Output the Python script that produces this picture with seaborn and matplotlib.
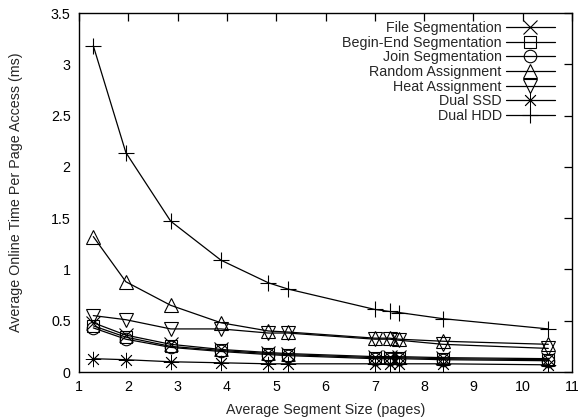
import matplotlib
matplotlib.use("Agg")
import matplotlib.pyplot as plt
import seaborn as sns
import pandas as pd

# Average segment size (pages) for each measured configuration
segment_size = [1.29, 1.95, 2.86, 3.88, 4.84, 5.23, 7.00, 7.30, 7.49, 8.38, 10.52]

# Average online time per page access (ms)
file_seg = [0.48, 0.36, 0.27, 0.22, 0.19, 0.18, 0.15, 0.15, 0.15, 0.14, 0.13]
begin_end_seg = [0.45, 0.34, 0.25, 0.21, 0.18, 0.17, 0.14, 0.14, 0.14, 0.13, 0.12]
join_seg = [0.43, 0.32, 0.24, 0.20, 0.17, 0.16, 0.13, 0.13, 0.13, 0.12, 0.11]
random_assign = [1.32, 0.88, 0.65, 0.48, 0.40, 0.39, 0.33, 0.33, 0.32, 0.30, 0.27]
heat_assign = [0.55, 0.51, 0.42, 0.42, 0.38, 0.38, 0.32, 0.32, 0.31, 0.27, 0.23]
dual_ssd = [0.13, 0.12, 0.10, 0.09, 0.08, 0.08, 0.08, 0.08, 0.08, 0.08, 0.07]
dual_hdd = [3.18, 2.14, 1.47, 1.09, 0.87, 0.81, 0.61, 0.59, 0.58, 0.52, 0.42]

series_names = ["File Segmentation", "Begin-End Segmentation", "Join Segmentation",
                "Random Assignment", "Heat Assignment", "Dual SSD", "Dual HDD"]
series_values = [file_seg, begin_end_seg, join_seg, random_assign,
                 heat_assign, dual_ssd, dual_hdd]

x_ticks = list(range(1, 12))
y_ticks = [0, 0.5, 1, 1.5, 2, 2.5, 3, 3.5]
y_tick_labels = ["0", "0.5", "1", "1.5", "2", "2.5", "3", "3.5"]

sns.set_style("white")
plt.rcParams["font.family"] = ["Liberation Sans", "DejaVu Sans"]
FS = 10.3
plt.rcParams["font.size"] = FS

markers = {
    "File Segmentation": dict(marker="x", markersize=9.5, markeredgewidth=0.8),
    "Begin-End Segmentation": dict(marker="s", markersize=8.5, markeredgewidth=0.8),
    "Join Segmentation": dict(marker="o", markersize=9, markeredgewidth=0.8),
    "Random Assignment": dict(marker="^", markersize=10, markeredgewidth=0.8),
    "Heat Assignment": dict(marker="v", markersize=10, markeredgewidth=0.8),
    "Dual SSD": dict(marker=(8, 2, 0), markersize=11, markeredgewidth=0.6),
    "Dual HDD": dict(marker="+", markersize=11, markeredgewidth=0.8),
}

fig = plt.figure(figsize=(5.78, 4.17), dpi=100)
ax = fig.add_axes([0.1367, 0.1079, 0.9896 - 0.1367, 0.9688 - 0.1079])

for name, vals in zip(series_names, series_values):
    df = pd.DataFrame({"size": segment_size, "time": vals})
    sns.lineplot(data=df, x="size", y="time", ax=ax, color="black",
                 linewidth=0.9, markerfacecolor="none", markeredgecolor="black",
                 label=name, **markers[name])

ax.set_xlim(1, 11)
ax.set_ylim(0, 3.5)
ax.set_xticks(x_ticks)
ax.set_xticklabels([str(t) for t in x_ticks])
ax.set_yticks(y_ticks)
ax.set_yticklabels(y_tick_labels)
ax.tick_params(direction="in", length=6, width=0.9, top=True, right=True,
               labelsize=FS, pad=6, colors="black")
for sp in ax.spines.values():
    sp.set_color("black")
    sp.set_linewidth(1.0)

ax.set_xlabel("Average Segment Size (pages)", fontsize=FS, labelpad=6)
ax.set_ylabel("Average Online Time Per Page Access (ms)", fontsize=FS, labelpad=20)

ax.legend(loc="upper right", bbox_to_anchor=(0.985, 1.005), frameon=False,
          markerfirst=False, handlelength=3.4, handletextpad=0.3,
          labelspacing=0.04, fontsize=FS, borderpad=0.2)

fig.savefig("out.png", dpi=100)
